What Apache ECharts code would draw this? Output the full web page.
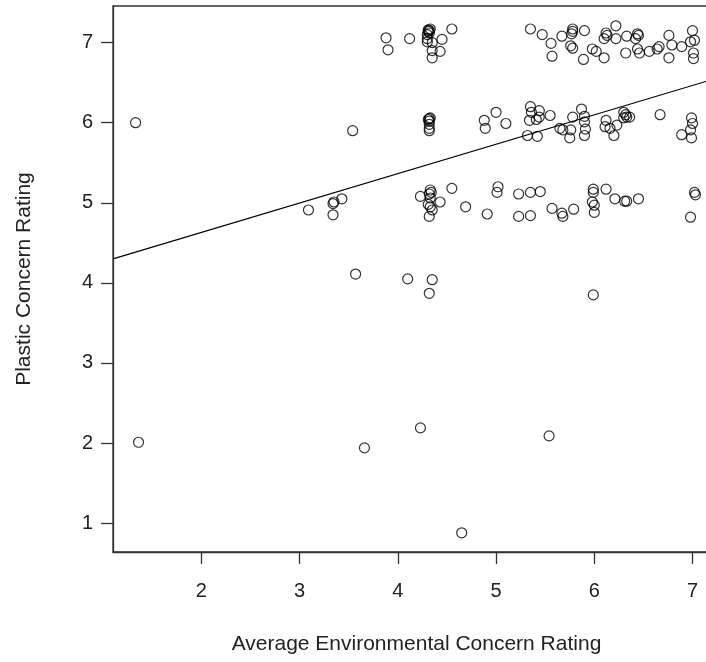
<!DOCTYPE html>
<html>
<head>
<meta charset="utf-8">
<script src="https://cdn.jsdelivr.net/npm/echarts@6/dist/echarts.min.js"></script>
<style>
  html, body { margin: 0; padding: 0; background: #fff; overflow: hidden; }
  /* the plot box runs a little past the right edge of the window */
  #chart { width: 720px; height: 662px; }
</style>
</head>
<body>
<div id="chart"></div>
<script>
// Average environmental concern rating (x) for each respondent, jittered
const envConcern = [
  1.33, 1.36, 3.54, 3.57, 4.10, 4.35, 4.32, 5.99, 4.23, 3.66, 5.54, 4.65,
  3.09, 3.34, 3.35, 3.34, 3.43,
  4.23, 4.33, 4.34, 4.32, 4.33, 4.31, 4.33, 4.35, 4.32, 4.43,
  4.55, 4.69, 4.91, 5.02, 5.01, 5.23, 5.23, 5.35, 5.35, 5.45,
  5.57, 5.67, 5.68, 5.79, 5.99, 5.99, 5.98, 6.00, 6.00, 6.12,
  6.21, 6.31, 6.33, 6.45, 7.02, 7.03, 6.98,
  4.32, 4.32, 4.32, 4.32, 4.32, 4.33, 4.31,
  4.88, 4.89, 5.00, 5.10, 5.35, 5.36, 5.34, 5.41, 5.44, 5.44, 5.55,
  5.32, 5.42, 5.65, 5.68, 5.76, 5.75, 5.78, 5.87, 5.90, 5.90, 5.91, 5.90,
  6.12, 6.11, 6.16, 6.23, 6.20, 6.30, 6.32, 6.33, 6.30, 6.36, 6.67, 6.89,
  6.99, 7.00, 6.98, 6.99,
  3.88, 3.90, 4.12,
  4.31, 4.31, 4.32, 4.30, 4.30, 4.35, 4.35, 4.35, 4.43, 4.45, 4.55,
  4.32, 4.33, 4.30,
  5.35, 5.47, 5.56, 5.57, 5.67, 5.78, 5.78, 5.77, 5.76, 5.78, 5.90, 5.89,
  5.98, 6.02, 6.10, 6.12, 6.13, 6.10, 6.22, 6.22, 6.33, 6.32, 6.44, 6.45,
  6.42, 6.44, 6.46, 6.56, 6.64, 6.66, 6.76, 6.76, 6.79, 6.89, 6.98, 7.02,
  7.00, 7.01, 7.01
];

// Plastic concern rating (y) for the same respondents, jittered
const plasticConcern = [
  6.00, 2.01, 5.90, 4.11, 4.05, 4.04, 3.87, 3.85, 2.19, 1.94, 2.09, 0.88,
  4.91, 4.99, 5.01, 4.85, 5.05,
  5.08, 5.16, 5.13, 5.11, 5.06, 4.98, 4.95, 4.91, 4.83, 5.01,
  5.18, 4.95, 4.86, 5.20, 5.13, 5.11, 4.83, 5.13, 4.84, 5.14,
  4.93, 4.87, 4.83, 4.92, 5.17, 5.13, 5.01, 4.97, 4.88, 5.17,
  5.05, 5.02, 5.02, 5.05, 5.13, 5.10, 4.82,
  6.05, 6.02, 5.98, 5.93, 5.90, 6.06, 6.04,
  6.03, 5.93, 6.13, 5.99, 6.20, 6.13, 6.03, 6.04, 6.15, 6.07, 6.09,
  5.84, 5.83, 5.93, 5.91, 5.91, 5.81, 6.07, 6.17, 6.08, 6.01, 5.92, 5.84,
  6.03, 5.95, 5.93, 5.97, 5.84, 6.13, 6.10, 6.07, 6.06, 6.07, 6.10, 5.85,
  6.06, 5.99, 5.91, 5.81,
  7.06, 6.91, 7.05,
  7.16, 7.14, 7.12, 7.05, 7.01, 7.00, 6.90, 6.81, 6.89, 7.04, 7.17,
  7.15, 7.17, 7.10,
  7.17, 7.10, 6.99, 6.83, 7.08, 7.17, 7.14, 7.11, 6.96, 6.93, 7.15, 6.79,
  6.92, 6.89, 6.81, 7.12, 7.09, 7.05, 7.21, 7.05, 7.08, 6.87, 7.11, 7.09,
  7.05, 6.92, 6.87, 6.89, 6.92, 6.95, 7.09, 6.81, 6.97, 6.95, 7.01, 7.03,
  7.15, 6.87, 6.80
];

// Least-squares fit drawn across the plot
const fitIntercept = 3.896;
const fitSlope = 0.367;

// Axis ranges and tick values
const xRange = [1.1, 7.28];
const yRange = [0.64, 7.457];
const xTicks = [2, 3, 4, 5, 6, 7];
const yTicks = [1, 2, 3, 4, 5, 6, 7];

const points = envConcern.map((x, i) => [x, plasticConcern[i]]);
const fitLine = xRange.map(x => [x, fitIntercept + fitSlope * x]);

const font = '"Liberation Sans", Arial, sans-serif';
const textColor = '#222';
const lineColor = '#333';

const chart = echarts.init(document.getElementById('chart'), null, { renderer: 'canvas' });
chart.setOption({
  animation: false,
  backgroundColor: '#fff',
  grid: {
    left: 113, top: 6, right: 0, bottom: 110,
    show: true, borderColor: lineColor, borderWidth: 1.3,
    containLabel: false
  },
  xAxis: {
    type: 'value',
    min: xRange[0], max: xRange[1],
    name: 'Average Environmental Concern Rating',
    nameLocation: 'middle',
    nameGap: 82,
    nameTextStyle: { fontFamily: font, fontSize: 21, color: textColor },
    axisLine: { show: true, lineStyle: { color: lineColor, width: 1.3 } },
    axisTick: { show: true, inside: false, length: 12, customValues: xTicks,
                lineStyle: { color: lineColor, width: 1.3 } },
    axisLabel: { show: true, margin: 29, customValues: xTicks,
                 fontFamily: font, fontSize: 20, color: textColor },
    splitLine: { show: false }
  },
  yAxis: {
    type: 'value',
    min: yRange[0], max: yRange[1],
    name: 'Plastic Concern Rating',
    nameLocation: 'middle',
    nameGap: 78,
    nameRotate: 90,
    nameTextStyle: { fontFamily: font, fontSize: 21, color: textColor },
    axisLine: { show: true, lineStyle: { color: lineColor, width: 1.3 } },
    axisTick: { show: true, inside: false, length: 12, customValues: yTicks,
                lineStyle: { color: lineColor, width: 1.3 } },
    axisLabel: { show: true, margin: 20, customValues: yTicks,
                 fontFamily: font, fontSize: 20, color: textColor },
    splitLine: { show: false }
  },
  series: [
    {
      type: 'scatter',
      data: points,
      symbol: 'circle',
      symbolSize: 10,
      itemStyle: { color: 'rgba(0,0,0,0)', borderColor: '#000', borderWidth: 1.2 },
      silent: true
    },
    {
      type: 'line',
      data: fitLine,
      showSymbol: false,
      symbol: 'none',
      lineStyle: { color: '#000', width: 1.2 },
      silent: true,
      z: 3
    }
  ]
});
</script>
</body>
</html>
